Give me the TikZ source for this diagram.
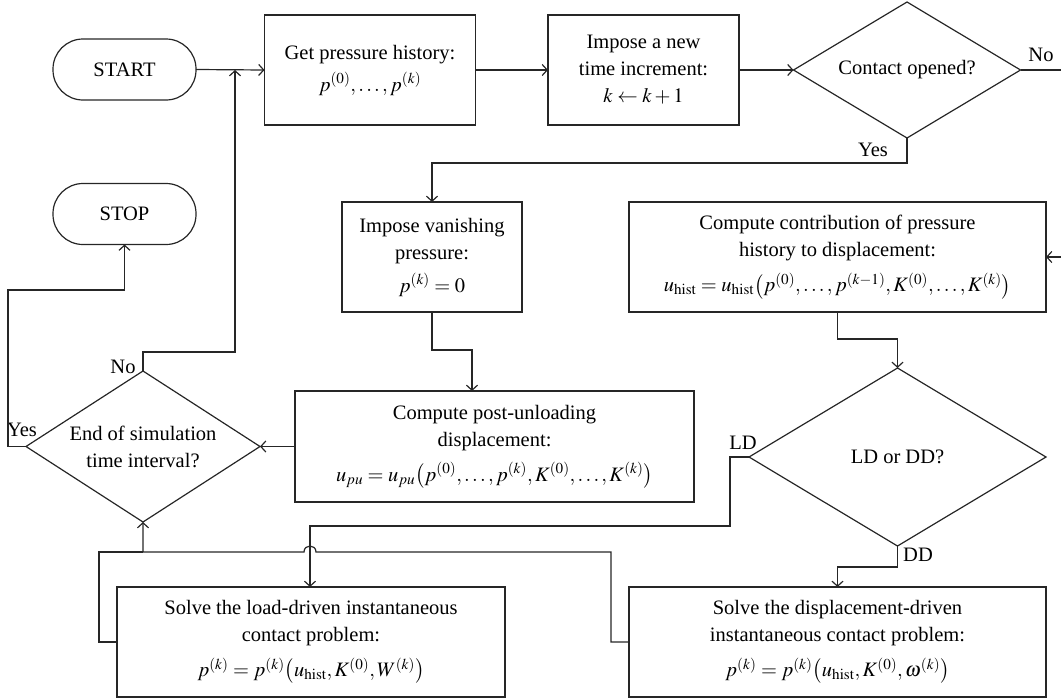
\documentclass[tikz,border=0pt]{standalone}
\usepackage{mathptmx}
\usepackage{fontspec}
\setmainfont{Liberation Serif}
\usetikzlibrary{shapes.geometric,arrows.meta}
\begin{document}
\begin{tikzpicture}[x=1pt,y=-1pt,
  every node/.style={font=\fontsize{20.5}{27}\selectfont},
  conn/.style={line width=1.2pt,draw=black!85},
  arr/.style={conn,-{Straight Barb[length=5pt,width=11pt,line width=1.2pt]}},
  procbox/.style={draw=black!85,line width=1.2pt,rectangle,align=center,inner sep=0pt,outer sep=0pt},
  pill/.style={draw=black!85,line width=1.2pt,rectangle,rounded corners=30pt,inner sep=0pt,outer sep=0pt,minimum width=143pt,minimum height=61pt},
  decide/.style={draw=black!85,line width=1.2pt,diamond,inner sep=0pt,outer sep=0pt},
  txt/.style={align=center,inner sep=0pt},
  lab/.style={inner sep=0pt}]
\useasboundingbox (0,0) rectangle (1061,699);

\node[pill] (start) at (124.5,69.5) {START};
\node[pill] (stop) at (124.5,214) {STOP};
\node[procbox,minimum width=211pt,minimum height=110pt] (get) at (370,70)
  {Get pressure history:\\[5pt] $p^{(0)},\ldots,p^{(k)}$};
\node[procbox,minimum width=191pt,minimum height=110pt] (inc) at (643.5,70)
  {Impose a new\\ time increment:\\ $k\leftarrow k+1$};
\node[decide,minimum width=227pt,minimum height=136pt] (contact) at (907,70) {};
\node[txt] (contacttxt) at (contact.center) {Contact opened?};
\node[procbox,minimum width=180pt,minimum height=110pt] (van) at (432,257)
  {Impose vanishing\\ pressure:\\[6pt] $p^{(k)}=0$};
\node[procbox,minimum width=417pt,minimum height=110pt] (hist) at (837.5,257)
  {Compute contribution of pressure\\ history to displacement:\\[8pt] $u_{\mathrm{hist}}=u_{\mathrm{hist}}\bigl(p^{(0)},\ldots,p^{(k-1)},K^{(0)},\ldots,K^{(k)}\bigr)$};
\node[procbox,minimum width=399pt,minimum height=111pt] (pu) at (494.5,446.5)
  {Compute post-unloading\\ displacement:\\[8pt] $u_{pu}=u_{pu}\bigl(p^{(0)},\ldots,p^{(k)},K^{(0)},\ldots,K^{(k)}\bigr)$};
\node[decide,minimum width=234pt,minimum height=151pt] (endsim) at (143,446.5) {};
\node[txt] (endsimtxt) at (endsim.center) {End of simulation\\ time interval?};
\node[decide,minimum width=297pt,minimum height=178pt] (lddd) at (897.5,457) {};
\node[txt] (ldddtxt) at (lddd.center) {LD or DD?};
\node[procbox,minimum width=388pt,minimum height=110pt] (ldbox) at (311,642)
  {Solve the load-driven instantaneous\\ contact problem:\\[8pt] $p^{(k)}=p^{(k)}\bigl(u_{\mathrm{hist}},K^{(0)},W^{(k)}\bigr)$};
\node[procbox,minimum width=417pt,minimum height=110pt] (ddbox) at (837.5,642)
  {Solve the displacement-driven\\ instantaneous contact problem:\\[8pt] $p^{(k)}=p^{(k)}\bigl(u_{\mathrm{hist}},K^{(0)},\omega^{(k)}\bigr)$};

\coordinate (noout) at (1061,70);
\coordinate (noin) at (1061,257);

% labels
\node[lab] (lno1) at (1041,55) {No};
\node[lab] (lyes1) at (873,150) {Yes};
\node[lab] (lno2) at (123,367) {No};
\node[lab] (lyes2) at (22,430) {Yes};
\node[lab] (lld) at (743,443) {LD};
\node[lab] (ldd) at (918,555) {DD};

% connectors
\draw[arr] (start.east) -- (get.west);
\draw[arr] (get.east) -- (inc.west);
\draw[arr] (inc.east) -- (contact.west);
\draw[conn] (contact.east) -- (noout);
\draw[arr] (noin) -- (hist.east);
\draw[arr] (contact.south) -- (907,163) -- (432,163) -- (van.north);
\draw[arr] (van.south) -- (432,350) -- (472,350) -- (472,391);
\draw[arr] (pu.west) -- (endsim.east);
\draw[arr] (endsim.north) -- (143,352) -- (235,352) -- (235,70);
\draw[arr] (endsim.west) -- (8,446.5) -- (8,290) -- (124.5,290) -- (stop.south);
\draw[arr] (hist.south) -- (837.5,339) -- (897.5,339) -- (lddd.north);
\draw[arr] (lddd.west) -- (730,457) -- (730,526) -- (310,526) -- (310,587);
\draw[arr] (lddd.south) -- (897.5,567) -- (837.5,567) -- (ddbox.north);
\draw[arr] (ddbox.west) -- (611,642) -- (611,552) -- (316,552)
  .. controls (316,544) and (304,544) .. (304,552) -- (143,552) -- (endsim.south);
\draw[conn] (ldbox.west) -- (99,642) -- (99,552) -- (143,552);
\end{tikzpicture}
\end{document}
